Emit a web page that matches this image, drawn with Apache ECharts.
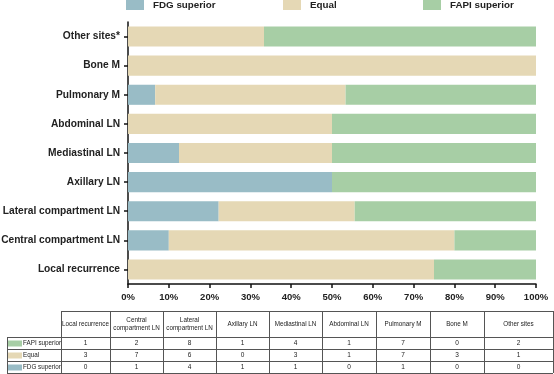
<!DOCTYPE html>
<html>
<head>
<meta charset="utf-8">
<script src="https://cdn.jsdelivr.net/npm/echarts@6/dist/echarts.min.js"></script>
<style>
html,body{margin:0;padding:0;background:#fff;}
#chart{width:554px;height:374px;}
</style>
</head>
<body>
<div id="chart"></div>
<script>
// ---- data ----
var categories = ['Local recurrence','Central compartment LN','Lateral compartment LN','Axillary LN','Mediastinal LN','Abdominal LN','Pulmonary M','Bone M','Other sites*'];
var tableHeaders = ['Local recurrence','Central\ncompartment LN','Lateral\ncompartment LN','Axillary LN','Mediastinal LN','Abdominal LN','Pulmonary M','Bone M','Other sites'];
var fapiSuperior = [1,2,8,1,4,1,7,0,2];
var equalCounts  = [3,7,6,0,3,1,7,3,1];
var fdgSuperior  = [0,1,4,1,1,0,1,0,0];
var xTickLabels = ['0%','10%','20%','30%','40%','50%','60%','70%','80%','90%','100%'];

var colors = {fdg:'#99bcc6', equal:'#e5d8b5', fapi:'#a7cea5'};
var FONT = '"Liberation Sans", Arial, sans-serif';

function pct(arr){
  return arr.map(function(v,i){
    var t = fapiSuperior[i]+equalCounts[i]+fdgSuperior[i];
    return t ? v/t*100 : 0;
  });
}

// ---- table graphic ----
var colX = [7, 61, 110, 163, 216, 269, 322, 376, 430, 484, 553];
var headTop = 311, headBot = 337;
var rowY = [337, 349, 361, 373];
var tableRows = [
  {name:'FAPI superior', color:colors.fapi, data:fapiSuperior},
  {name:'Equal', color:colors.equal, data:equalCounts},
  {name:'FDG superior', color:colors.fdg, data:fdgSuperior}
];
var g = [];
var lineColor = '#555';
function hline(x1,x2,y){ g.push({type:'line',shape:{x1:x1,y1:y+0.5,x2:x2,y2:y+0.5},style:{stroke:lineColor,lineWidth:1},silent:true}); }
function vline(x,y1,y2){ g.push({type:'line',shape:{x1:x+0.5,y1:y1,x2:x+0.5,y2:y2},style:{stroke:lineColor,lineWidth:1},silent:true}); }
function txt(x,y,s,align,size){
  g.push({type:'text',x:x,y:y,silent:true,style:{text:s,fill:'#222',font:'normal '+size+'px '+FONT,textAlign:align,textVerticalAlign:'middle',align:align,verticalAlign:'middle',lineHeight:8}});
}
hline(colX[1], colX[10], headTop);
hline(colX[0], colX[10], headBot);
for (var c=1;c<colX.length;c++) vline(colX[c], headTop, rowY[3]);
vline(colX[0], headBot, rowY[3]);
for (var r=1;r<rowY.length;r++) hline(colX[0], colX[10], rowY[r]);
for (var i=0;i<tableHeaders.length;i++){
  txt((colX[i+1]+colX[i+2])/2, (headTop+headBot)/2+0.5, tableHeaders[i], 'center', 6.3);
}
tableRows.forEach(function(row, ri){
  var yc = (rowY[ri]+rowY[ri+1])/2 + 0.5;
  g.push({type:'rect',shape:{x:8,y:yc-3,width:14,height:6},style:{fill:row.color},silent:true});
  txt(23, yc, row.name, 'left', 6.3);
  row.data.forEach(function(v,ci){
    txt((colX[ci+1]+colX[ci+2])/2, yc, String(v), 'center', 6.5);
  });
});

var chart = echarts.init(document.getElementById('chart'), null, {renderer:'canvas'});
var legendText = {fontSize:9.8, fontWeight:'bold', color:'#222', fontFamily:FONT, padding:[0,0,0,4]};
var option = {
  animation:false,
  backgroundColor:'#fff',
  color:[colors.fdg, colors.equal, colors.fapi],
  legend:[
    {data:['FDG superior'], left:126, top:0, itemWidth:18, itemHeight:10, textStyle:legendText, icon:'rect', padding:0},
    {data:['Equal'], left:283, top:0, itemWidth:18, itemHeight:10, textStyle:legendText, icon:'rect', padding:0},
    {data:['FAPI superior'], left:423, top:0, itemWidth:18, itemHeight:10, textStyle:legendText, icon:'rect', padding:0}
  ],
  grid:{left:128, right:18, top:22, height:262, containLabel:false, outerBoundsMode:'none'},
  xAxis:{
    type:'value', min:0, max:100, interval:10,
    axisLine:{show:true, lineStyle:{color:'#111', width:1.5}},
    axisTick:{show:true, length:4, lineStyle:{color:'#111', width:1.5}},
    splitLine:{show:false},
    axisLabel:{color:'#222', fontSize:9.5, fontWeight:'bold', margin:8, fontFamily:FONT,
      formatter:function(v){ return xTickLabels[Math.round(v/10)]; }}
  },
  yAxis:{
    type:'category', data:categories,
    axisLine:{show:true, lineStyle:{color:'#111', width:1.5}},
    axisTick:{show:true, alignWithLabel:true, length:4, lineStyle:{color:'#111', width:1.5}},
    axisLabel:{color:'#222', fontSize:10.2, fontWeight:'bold', margin:8, fontFamily:FONT}
  },
  series:[
    {name:'FDG superior', type:'bar', stack:'s', data:pct(fdgSuperior), barCategoryGap:'31%', itemStyle:{color:colors.fdg}},
    {name:'Equal', type:'bar', stack:'s', data:pct(equalCounts), itemStyle:{color:colors.equal}},
    {name:'FAPI superior', type:'bar', stack:'s', data:pct(fapiSuperior), itemStyle:{color:colors.fapi}}
  ],
  graphic:g
};
chart.setOption(option);
</script>
</body>
</html>
